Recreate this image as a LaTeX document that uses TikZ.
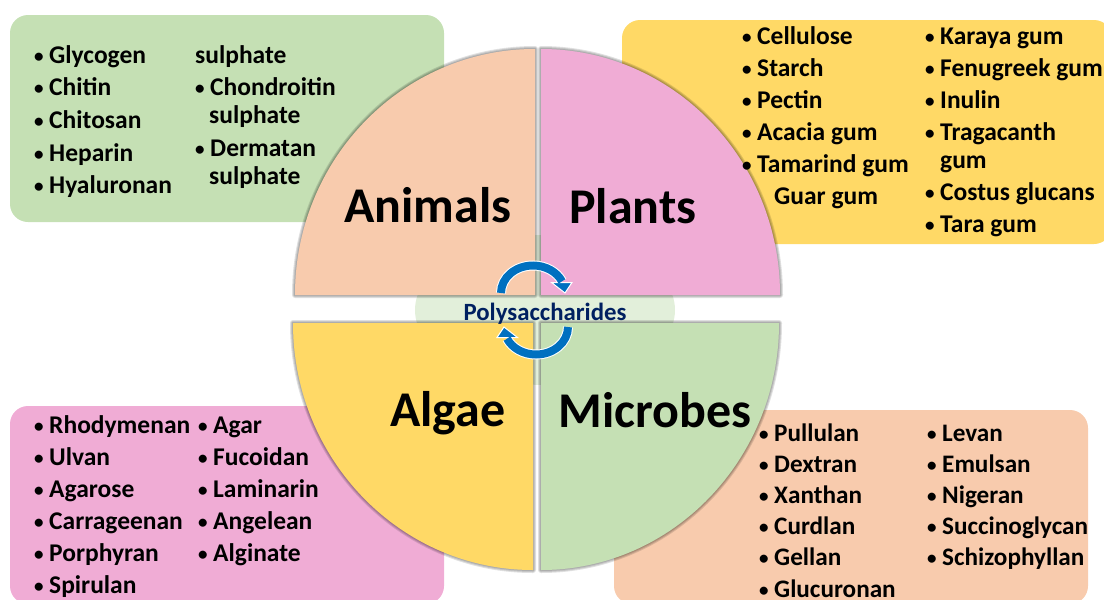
\documentclass[tikz,border=0pt]{standalone}
\usepackage{fontspec}
\setmainfont{Carlito}
\usepackage{xcolor}
\usetikzlibrary{shapes.geometric}
\definecolor{leaf}{HTML}{C5E0B4}
\definecolor{sun}{HTML}{FFD966}
\definecolor{peach}{HTML}{F8CBAD}
\definecolor{rose}{HTML}{F0ACD5}
\definecolor{mist}{HTML}{E2EFDA}
\definecolor{navy}{HTML}{002060}
\definecolor{swirl}{HTML}{0070C0}
\newcommand{\itm}{\makebox[15pt][l]{\raisebox{1pt}{\fontsize{19}{19}\selectfont •}}}
\newcommand{\softedge}[2]{%
  \foreach \w in {6,4,2}{\draw[black, opacity=.12, line width=\w pt, line join=round] #2;}
  \fill[#1] #2;}
\tikzset{
  x=1pt, y=-1pt,
  box/.style={rectangle, rounded corners=18pt, inner sep=0pt},
  listcol/.style={anchor=north west, inner sep=0pt, align=left, font=\fontsize{25.5}{32}\selectfont\bfseries},
  listwide/.style={listcol, font=\fontsize{25.5}{32.7}\selectfont\bfseries},
  listtight/.style={listcol, font=\fontsize{25.2}{31.2}\selectfont\bfseries},
  biglabel/.style={inner sep=0pt, font=\fontsize{50}{54}\selectfont\bfseries},
  swirlband/.style={swirl, line width=8pt},
  swirlhalo/.style={white, line width=10pt},
  swirlhead/.style={fill=swirl, draw=white, line width=1pt, line join=miter},
}
\begin{document}
\begin{tikzpicture}
\useasboundingbox (0,0) rectangle (1104,600);
% colour panels behind the wheel
\node[box, fill=leaf, minimum width=434pt, minimum height=207pt] (animalbox) at (227,118.5) {};
\node[box, fill=sun, minimum width=490pt, minimum height=224pt] (plantbox) at (867,132) {};
\node[box, fill=rose, minimum width=434pt, minimum height=198pt] (algaebox) at (227,505) {};
\node[box, fill=peach, minimum width=474pt, minimum height=194pt] (microbebox) at (851,507) {};
% centre disc
\node[ellipse, fill=mist, minimum width=260pt, minimum height=150pt, inner sep=0pt] (hub) at (545,310) {};
% the four quarters
\softedge{peach}{(535,295) -- (295,295) arc[start angle=180, end angle=270, x radius=240, y radius=246] -- cycle}
\softedge{rose}{(541,295) -- (780,295) arc[start angle=0, end angle=-90, x radius=239, y radius=246] -- cycle}
\softedge{sun}{(533,323) -- (293,323) arc[start angle=180, end angle=90, x radius=240, y radius=247] -- cycle}
\softedge{leaf}{(541,323) -- (779,323) arc[start angle=0, end angle=90, x radius=238, y radius=247] -- cycle}
% big labels
\node[biglabel] (animals) at (428,205) {Animals};
\node[biglabel] (plants) at (633,206) {Plants};
\node[biglabel] (algae) at (448,413) {Algae};
\node[biglabel] (microbes) at (655,410) {Microbes};
% lists
\node[listwide] (animalone) at (34,40) {\strut\itm Glycogen\\\itm Chitin\\\itm Chitosan\\\itm Heparin\\\itm Hyaluronan};
\node[listwide] (animaltwo) at (195,40) {\strut sulphate\\\itm Chondroitin\\[-4.5pt]\hspace{14pt}sulphate\\\itm Dermatan\\[-4.5pt]\hspace{14pt}sulphate};
\node[listcol] (plantone) at (742,22) {\strut\itm Cellulose\\\itm Starch\\\itm Pectin\\\itm Acacia gum\\\itm Tamarind gum\\\hspace{32pt}Guar gum};
\node[listcol] (planttwo) at (925,22) {\strut\itm Karaya gum\\\itm Fenugreek gum\\\itm Inulin\\\itm Tragacanth\\[-4.5pt]\hspace{15pt}gum\\\itm Costus glucans\\\itm Tara gum};
\node[listcol] (algaeone) at (34,411) {\strut\itm Rhodymenan\\\itm Ulvan\\\itm Agarose\\\itm Carrageenan\\\itm Porphyran\\\itm Spirulan};
\node[listcol] (algaetwo) at (198,411) {\strut\itm Agar\\\itm Fucoidan\\\itm Laminarin\\\itm Angelean\\\itm Alginate};
\node[listtight] (microbeone) at (759,419) {\strut\itm Pullulan\\\itm Dextran\\\itm Xanthan\\\itm Curdlan\\\itm Gellan\\\itm Glucuronan};
\node[listtight] (microbetwo) at (927,419) {\strut\itm Levan\\\itm Emulsan\\\itm Nigeran\\\itm Succinoglycan\\\itm Schizophyllan};
% turning arrows and the title
\foreach \a in {0,180}{
  \begin{scope}[rotate around={\a:(534.5,310)}]
    \draw[swirlhalo] (501,293) arc[start angle=180, end angle=335, x radius=32, y radius=27.5];
    \filldraw[swirlhead] (551.5,282.5) -- (572,282.5) -- (565,293) -- cycle;
    \draw[swirlband] (501,293) arc[start angle=180, end angle=335, x radius=32, y radius=27.5];
  \end{scope}
}
\node[inner sep=0pt, text=navy, font=\fontsize{24.8}{27}\selectfont\bfseries] (title) at (545,314) {Polysaccharides};
\end{tikzpicture}
\end{document}
